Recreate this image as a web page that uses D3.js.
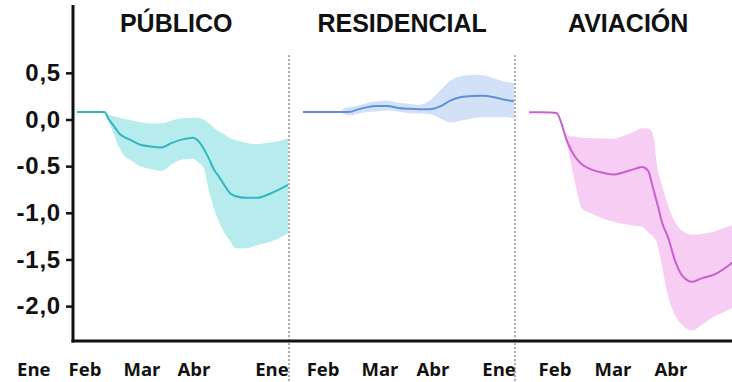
<!DOCTYPE html>
<html>
<head>
<meta charset="utf-8">
<script src="https://cdn.jsdelivr.net/npm/d3@7"></script>
<style>
  html, body { margin: 0; padding: 0; background: #fff; }
  svg { display: block; }
</style>
</head>
<body>
<svg id="chart" width="732" height="382"></svg>
<script>
// Sector titles
const sectors = ["PÚBLICO", "RESIDENCIAL", "AVIACIÓN"];

// Local week index within each sector's period
const weeksPublico = [0, 1, 2, 2.6, 3, 3.5, 4, 4.5, 5, 6, 7, 8, 9, 10, 11, 11.5, 12, 12.5, 13, 13.5, 14, 14.5, 15, 16, 17, 18, 19, 20];
const meanPublico  = [0.08, 0.08, 0.08, 0.08, 0.005, -0.07, -0.15, -0.19, -0.215, -0.27, -0.29, -0.30, -0.25, -0.213, -0.195, -0.23, -0.31, -0.42, -0.54, -0.62, -0.71, -0.79, -0.82, -0.84, -0.84, -0.81, -0.76, -0.70];
const lowPublico   = [0.08, 0.08, 0.08, 0.08, -0.02, -0.16, -0.30, -0.39, -0.43, -0.50, -0.53, -0.55, -0.48, -0.43, -0.42, -0.46, -0.52, -0.76, -0.96, -1.11, -1.22, -1.30, -1.38, -1.38, -1.35, -1.32, -1.28, -1.22];
const highPublico  = [0.08, 0.08, 0.08, 0.08, 0.05, 0.035, 0.02, 0.005, -0.005, -0.03, -0.043, -0.04, -0.01, 0.012, 0.018, 0.015, 0.0, -0.04, -0.09, -0.13, -0.16, -0.20, -0.22, -0.25, -0.265, -0.25, -0.235, -0.20];

const weeksResidencial = [0, 1, 2, 3, 3.5, 4, 4.5, 5, 6, 7, 8, 9, 10, 11, 12, 13, 14, 15, 16, 17, 18, 19, 20];
const meanResidencial  = [0.08, 0.08, 0.08, 0.08, 0.08, 0.08, 0.082, 0.10, 0.13, 0.145, 0.145, 0.124, 0.115, 0.11, 0.11, 0.14, 0.205, 0.24, 0.252, 0.254, 0.242, 0.214, 0.195];
const lowResidencial   = [0.08, 0.08, 0.08, 0.08, 0.08, 0.05, 0.042, 0.055, 0.08, 0.086, 0.095, 0.085, 0.067, 0.063, 0.06, 0.01, -0.033, -0.01, 0.01, 0.026, 0.028, 0.028, 0.01];
const highResidencial  = [0.08, 0.08, 0.08, 0.08, 0.08, 0.125, 0.135, 0.145, 0.175, 0.195, 0.20, 0.18, 0.17, 0.158, 0.20, 0.31, 0.42, 0.465, 0.478, 0.475, 0.445, 0.41, 0.39];

const weeksAviacion = [0, 1, 2, 2.6, 3.1, 3.5, 4, 4.5, 5, 6, 7, 8, 9, 10, 10.7, 11.3, 11.7, 12.2, 12.6, 13.2, 13.8, 14.5, 15.5, 16.4, 17.6, 18.5, 19.3, 20];
const meanAviacion  = [0.077, 0.077, 0.075, 0.07, -0.05, -0.20, -0.33, -0.42, -0.48, -0.54, -0.57, -0.59, -0.565, -0.53, -0.51, -0.55, -0.71, -0.92, -1.10, -1.27, -1.50, -1.67, -1.74, -1.70, -1.66, -1.60, -1.53, -1.46];
const lowAviacion   = [0.077, 0.077, 0.075, 0.07, -0.07, -0.22, -0.48, -0.75, -0.95, -1.01, -1.06, -1.095, -1.12, -1.14, -1.15, -1.21, -1.25, -1.35, -1.57, -1.90, -2.09, -2.20, -2.26, -2.20, -2.11, -2.06, -2.02, -1.98];
const highAviacion  = [0.077, 0.077, 0.075, 0.07, -0.03, -0.15, -0.18, -0.185, -0.195, -0.20, -0.205, -0.21, -0.175, -0.13, -0.095, -0.10, -0.14, -0.54, -0.70, -0.93, -1.09, -1.19, -1.235, -1.225, -1.20, -1.16, -1.13, -1.10];

// Month labels along each sector's period (label, local week)
const monthLabelsPublico     = ["Ene", "Feb", "Mar", "Abr", "Ene"];
const monthWeeksPublico      = [-4.1, 0.76, 6.16, 11.09, 18.48];
const monthLabelsResidencial = ["Feb", "Mar", "Abr", "Ene"];
const monthWeeksResidencial  = [1.9, 7.3, 12.32, 18.58];
const monthLabelsAviacion    = ["Feb", "Mar", "Abr"];
const monthWeeksAviacion     = [2.46, 7.96, 13.46];

// Y axis ticks
const yTickValues = [0.5, 0, -0.5, -1, -1.5, -2];
const yTickLabels = ["0,5", "0,0", "-0.5", "-1,0", "-1,5", "-2,0"];

const panels = [
  { title: sectors[0], weeks: weeksPublico, mean: meanPublico, low: lowPublico, high: highPublico,
    months: monthLabelsPublico, monthWeeks: monthWeeksPublico, line: "#32b6bf", band: "#b6ecee" },
  { title: sectors[1], weeks: weeksResidencial, mean: meanResidencial, low: lowResidencial, high: highResidencial,
    months: monthLabelsResidencial, monthWeeks: monthWeeksResidencial, line: "#5f90d8", band: "#d2e1f7" },
  { title: sectors[2], weeks: weeksAviacion, mean: meanAviacion, low: lowAviacion, high: highAviacion,
    months: monthLabelsAviacion, monthWeeks: monthWeeksAviacion, line: "#c860cf", band: "#f7cdf4" }
];

// Layout
const W = 732, H = 382;
const axisX = 73;          // vertical axis position
const baseY = 341;         // horizontal axis position
const panelStart0 = 77;    // first panel data start
const panelSpan = 211;     // width of one sector's period
const panelStep = 226;     // distance between sector starts
const weekDomain = [0, 20];

const svg = d3.select("#chart");

const y = d3.scaleLinear().domain([-2.374, 1.227]).range([baseY, 5]);

// Clip everything to the plot area right of the y axis
svg.append("defs").append("clipPath").attr("id", "plotClip")
  .append("rect").attr("x", axisX).attr("y", 0).attr("width", W - axisX).attr("height", baseY);

const plot = svg.append("g").attr("clip-path", "url(#plotClip)");

panels.forEach((p, i) => {
  const start = panelStart0 + i * panelStep;
  const x = d3.scaleLinear().domain(weekDomain).range([start, start + panelSpan]);
  const rows = p.weeks.map((w, k) => ({ w, m: p.mean[k], lo: p.low[k], hi: p.high[k] }));

  plot.append("path")
    .datum(rows)
    .attr("fill", p.band)
    .attr("d", d3.area().curve(d3.curveMonotoneX)
      .x(d => x(d.w)).y0(d => y(d.lo)).y1(d => y(d.hi)));

  plot.append("path")
    .datum(rows)
    .attr("fill", "none")
    .attr("stroke", p.line)
    .attr("stroke-width", 2)
    .attr("d", d3.line().curve(d3.curveMonotoneX)
      .x(d => x(d.w)).y(d => y(d.m)));

  // Sector title
  svg.append("text")
    .attr("x", x(9.4))
    .attr("y", 32)
    .attr("text-anchor", "middle")
    .style("font-family", "'Liberation Sans', Arial, sans-serif")
    .style("font-weight", "bold")
    .style("font-size", "25px")
    .attr("fill", "#111")
    .text(p.title);

  // Month labels
  svg.append("g").selectAll("text")
    .data(p.months.map((m, k) => ({ m, w: p.monthWeeks[k] })))
    .join("text")
    .attr("x", d => x(d.w))
    .attr("y", 376)
    .attr("text-anchor", "middle")
    .style("font-family", "'Open Sans', sans-serif")
    .style("font-weight", "bold")
    .style("font-size", "18.5px")
    .attr("fill", "#111")
    .text(d => d.m);

  // Dotted separator at the end of the period
  if (i < panels.length - 1) {
    const sx = x(weekDomain[1]) + 1;
    svg.append("line")
      .attr("x1", sx).attr("x2", sx)
      .attr("y1", y(0.69)).attr("y2", H)
      .attr("stroke", "#555")
      .attr("stroke-width", 1)
      .attr("stroke-dasharray", "2,2");
  }
});

// Y axis
const yAxis = d3.axisLeft(y)
  .tickValues(yTickValues)
  .tickFormat((d, k) => yTickLabels[k])
  .tickSize(7)
  .tickPadding(5);

const gy = svg.append("g").attr("transform", `translate(${axisX},0)`).call(yAxis);
gy.select(".domain").remove();
gy.selectAll(".tick line").attr("stroke", "#111").attr("stroke-width", 2.5);
gy.selectAll(".tick text")
  .attr("fill", "#111")
  .style("font-family", "'Liberation Sans', Arial, sans-serif")
  .style("font-weight", "bold")
  .style("font-size", "24px")
  .style("letter-spacing", "0.8px");

// Axis lines
svg.append("line")
  .attr("x1", axisX).attr("x2", axisX)
  .attr("y1", y(1.227)).attr("y2", baseY + 1.5)
  .attr("stroke", "#111").attr("stroke-width", 3);
svg.append("line")
  .attr("x1", axisX - 1.5).attr("x2", W)
  .attr("y1", baseY).attr("y2", baseY)
  .attr("stroke", "#111").attr("stroke-width", 3);
</script>
</body>
</html>
